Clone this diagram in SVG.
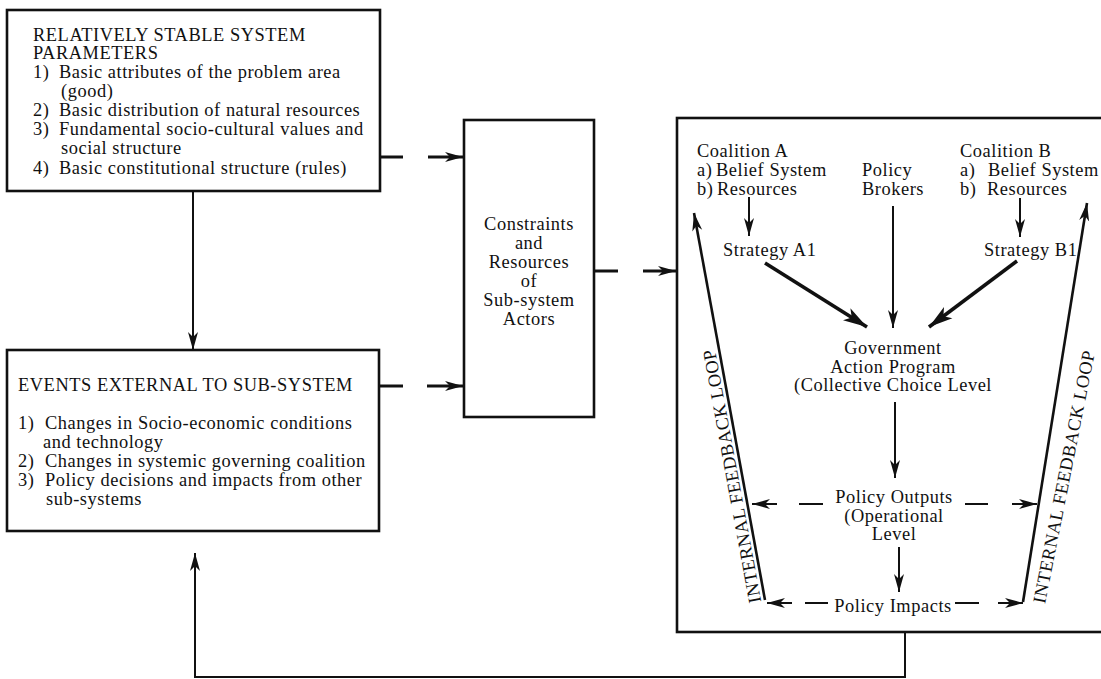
<svg xmlns="http://www.w3.org/2000/svg" width="1101" height="679" viewBox="0 0 1101 679" font-family="Liberation Serif, serif">
  <defs>
    <style>
      text { font-family: 'Liberation Serif', serif; font-size: 18.4px; letter-spacing: 0.55px; fill: #111; }
      .box { fill: none; stroke: #111; stroke-width: 2.6; }
      .ln { fill: none; stroke: #111; stroke-width: 2; }
      .dash { fill: none; stroke: #111; stroke-width: 3; }
      .thick { fill: none; stroke: #111; stroke-width: 3.6; }
      .fb { fill: none; stroke: #111; stroke-width: 2.6; }
      .mid { text-anchor: middle; }
    </style>
    <marker id="ah" markerUnits="userSpaceOnUse" markerWidth="20" markerHeight="12" refX="18" refY="6" orient="auto">
      <path d="M0,1 L18,6 L0,11 L5,6 Z" fill="#111"/>
    </marker>
    <marker id="ahb" markerUnits="userSpaceOnUse" markerWidth="26" markerHeight="16" refX="24" refY="8" orient="auto">
      <path d="M0,1 L24,8 L0,15 L6,8 Z" fill="#111"/>
    </marker>
  </defs>

  <rect width="1101" height="679" fill="#fff"/>

  <!-- connectors -->
  <g id="connectors">
    <!-- stable parameters down to external events -->
    <line class="ln" x1="193" y1="191" x2="193" y2="350" marker-end="url(#ah)"/>
    <!-- feedback from sub-system back to external events -->
    <polyline class="ln" points="905,632 905,677 195,677 195,553" marker-end="url(#ah)"/>
    <!-- broken arrows into the constraints box -->
    <line class="dash" x1="380" y1="157" x2="403" y2="157"/>
    <line class="dash" x1="428" y1="157" x2="463" y2="157" marker-end="url(#ah)"/>
    <line class="dash" x1="379" y1="386" x2="403" y2="386"/>
    <line class="dash" x1="427" y1="386" x2="463" y2="386" marker-end="url(#ah)"/>
    <!-- constraints into the sub-system -->
    <line class="dash" x1="594" y1="271" x2="618" y2="271"/>
    <line class="dash" x1="643" y1="271" x2="676" y2="271" marker-end="url(#ah)"/>

    <!-- inside the sub-system -->
    <line class="ln" x1="749" y1="197" x2="749" y2="236" marker-end="url(#ah)"/>
    <line class="ln" x1="1020" y1="198" x2="1020" y2="237" marker-end="url(#ah)"/>
    <line class="ln" x1="893" y1="206" x2="893" y2="328" marker-end="url(#ah)"/>
    <line class="thick" x1="765" y1="263" x2="867" y2="327" marker-end="url(#ahb)"/>
    <line class="thick" x1="1017" y1="261" x2="929" y2="327" marker-end="url(#ahb)"/>
    <line class="ln" x1="895" y1="402" x2="895" y2="478" marker-end="url(#ah)"/>
    <line class="ln" x1="899" y1="547" x2="899" y2="592" marker-end="url(#ah)"/>

    <!-- outputs spread sideways -->
    <line class="ln" x1="777" y1="504" x2="752" y2="504" marker-end="url(#ah)"/>
    <line class="ln" x1="799" y1="504" x2="823" y2="504"/>
    <line class="ln" x1="965" y1="504" x2="988" y2="504"/>
    <line class="ln" x1="1012" y1="504" x2="1037" y2="504" marker-end="url(#ah)"/>

    <!-- impacts spread sideways -->
    <line class="ln" x1="792" y1="603" x2="767" y2="603" marker-end="url(#ah)"/>
    <line class="ln" x1="805" y1="603" x2="828" y2="603"/>
    <line class="ln" x1="955" y1="603" x2="979" y2="603"/>
    <line class="ln" x1="998" y1="603" x2="1023" y2="603" marker-end="url(#ah)"/>

    <!-- internal feedback loops -->
    <line class="fb" x1="765" y1="600" x2="694" y2="213" marker-end="url(#ah)"/>
    <line class="fb" x1="1023" y1="602" x2="1087" y2="203" marker-end="url(#ah)"/>
  </g>

  <!-- relatively stable system parameters -->
  <g id="stable-parameters">
    <rect class="box" x="7" y="10" width="373" height="181"/>
    <text x="33" y="40.5">RELATIVELY STABLE SYSTEM</text>
    <text x="33" y="59">PARAMETERS</text>
    <text x="33" y="78">1)</text>
    <text x="59" y="78">Basic attributes of the problem area</text>
    <text x="61" y="96.5">(good)</text>
    <text x="33" y="116">2)</text>
    <text x="59" y="116">Basic distribution of natural resources</text>
    <text x="33" y="135">3)</text>
    <text x="59" y="135">Fundamental socio-cultural values and</text>
    <text x="61" y="154">social structure</text>
    <text x="33" y="174">4)</text>
    <text x="59" y="174">Basic constitutional structure (rules)</text>
  </g>

  <!-- external events -->
  <g id="external-events">
    <rect class="box" x="7" y="350" width="372" height="181"/>
    <text x="18" y="391">EVENTS EXTERNAL TO SUB-SYSTEM</text>
    <text x="18" y="429">1)</text>
    <text x="45" y="429">Changes in Socio-economic conditions</text>
    <text x="43" y="447.5">and technology</text>
    <text x="18" y="467">2)</text>
    <text x="45" y="467">Changes in systemic governing coalition</text>
    <text x="18" y="486">3)</text>
    <text x="45" y="486">Policy decisions and impacts from other</text>
    <text x="46" y="505">sub-systems</text>
  </g>

  <!-- constraints and resources -->
  <g id="constraints">
    <rect class="box" x="464" y="120" width="130" height="297"/>
    <text class="mid" x="529" y="230">Constraints</text>
    <text class="mid" x="529" y="249">and</text>
    <text class="mid" x="529" y="268">Resources</text>
    <text class="mid" x="529" y="287">of</text>
    <text class="mid" x="529" y="306">Sub-system</text>
    <text class="mid" x="529" y="324.5">Actors</text>
  </g>

  <!-- policy sub-system -->
  <g id="sub-system">
    <rect class="box" x="677" y="118" width="440" height="514"/>
    <text x="697" y="157">Coalition A</text>
    <text x="697" y="176">a)</text>
    <text x="716" y="176">Belief System</text>
    <text x="697" y="194.5">b)</text>
    <text x="717" y="194.5">Resources</text>

    <text x="862" y="176">Policy</text>
    <text x="862" y="194.5">Brokers</text>

    <text x="960" y="157">Coalition B</text>
    <text x="960" y="176">a)</text>
    <text x="988" y="176">Belief System</text>
    <text x="960" y="194.5">b)</text>
    <text x="987" y="194.5">Resources</text>

    <text x="723" y="256">Strategy A1</text>
    <text x="984" y="256">Strategy B1</text>

    <text class="mid" x="893" y="354">Government</text>
    <text class="mid" x="893" y="372.5">Action Program</text>
    <text class="mid" x="893" y="391">(Collective Choice Level</text>

    <text class="mid" x="894" y="503">Policy Outputs</text>
    <text class="mid" x="894" y="521.5">(Operational</text>
    <text class="mid" x="894" y="540">Level</text>

    <text class="mid" x="893" y="612">Policy Impacts</text>

    <text class="mid" transform="translate(738 475) rotate(-100.4)">INTERNAL FEEDBACK LOOP</text>
    <text class="mid" transform="translate(1070 478) rotate(-78.8)">INTERNAL FEEDBACK LOOP</text>
  </g>
</svg>
